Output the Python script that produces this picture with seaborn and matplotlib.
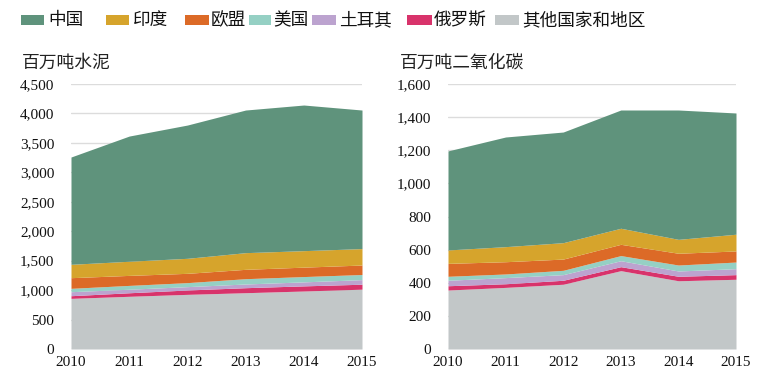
import numpy as np
import matplotlib
matplotlib.use("Agg")
import matplotlib.pyplot as plt
from matplotlib.patches import Rectangle
import seaborn as sns

years = [2010, 2011, 2012, 2013, 2014, 2015]
series_names = ["中国", "印度", "欧盟", "美国", "土耳其", "俄罗斯", "其他国家和地区"]
colors = ["#5f937c", "#d6a42c", "#dc6a27", "#95d0c4", "#bca3cf", "#d8336b", "#c2c7c8"]

# Cement production, million tonnes
cement_china = [1822, 2126, 2263, 2422, 2473, 2353]
cement_india = [227, 240, 255, 283, 280, 279]
cement_eu = [181, 170, 158, 159, 160, 161]
cement_us = [57, 65, 68, 90, 90, 87]
cement_turkey = [68, 60, 57, 63, 68, 78]
cement_russia = [45, 60, 74, 85, 87, 84]
cement_other = [860, 895, 928, 956, 985, 1016]

# CO2 emissions, million tonnes
co2_china = [598, 662, 668, 714, 781, 732]
co2_india = [81, 91, 99, 97, 84, 101]
co2_eu = [78, 74, 68, 68, 71, 67]
co2_us = [24, 22, 26, 31, 36, 40]
co2_turkey = [33, 37, 34, 36, 32, 36]
co2_russia = [26, 22, 24, 24, 27, 28]
co2_other = [356, 372, 391, 473, 412, 421]

left_ticks = [0, 500, 1000, 1500, 2000, 2500, 3000, 3500, 4000, 4500]
right_ticks = [0, 200, 400, 600, 800, 1000, 1200, 1400, 1600]

sns.set_theme(style="white")
plt.rcParams['font.family'] = ['Noto Sans CJK SC', 'DejaVu Sans']

W, H = 764, 387
fig = plt.figure(figsize=(W/100, H/100), dpi=100)
axL = fig.add_axes([71/W, 1-349/H, (362-71)/W, (349-84)/H])
axR = fig.add_axes([448/W, 1-349/H, (736-448)/W, (349-84)/H])

def draw(ax, stacks, ticks, title, title_x):
    order = list(reversed(range(len(stacks))))
    ax.stackplot(years, [stacks[i] for i in order],
                 colors=[colors[i] for i in order], linewidth=0, zorder=2)
    ax.set_xlim(2010, 2015)
    ax.set_ylim(0, ticks[-1])
    ax.set_yticks(ticks)
    ax.set_yticklabels([f"{t:,}" for t in ticks], family="Liberation Serif", fontsize=11, color="#111111")
    ax.set_xticks(years)
    ax.set_xticklabels([str(y) for y in years], family="Liberation Serif", fontsize=11, color="#111111")
    ax.grid(axis="y", color="#dcdcdc", linewidth=1, zorder=0)
    ax.set_axisbelow(True)
    for s in ax.spines.values():
        s.set_visible(False)
    ax.tick_params(axis="both", length=0, pad=5)
    ax.tick_params(axis="y", pad=12)
    fig.text(title_x/W, 1-63/H, title, fontsize=12.8, va="center", ha="left", color="#222222")

draw(axL, [cement_china, cement_india, cement_eu, cement_us, cement_turkey, cement_russia, cement_other],
     left_ticks, "百万吨水泥", 22)
draw(axR, [co2_china, co2_india, co2_eu, co2_us, co2_turkey, co2_russia, co2_other],
     right_ticks, "百万吨二氧化碳", 400)

# legend laid out as in the reference (patch left, patch right, text left in px)
legend_pos = [(21, 44, 48), (106, 129, 133), (185, 209, 211), (249, 271, 273),
              (312, 336, 339), (407, 432, 434), (495, 519, 522)]
for (pl, pr, tl), name, c in zip(legend_pos, series_names, colors):
    fig.add_artist(Rectangle((pl/W, 1-25/H), (pr-pl)/W, 10/H, transform=fig.transFigure,
                             facecolor=c, edgecolor="none"))
    fig.text(tl/W, 1-20/H, name, fontsize=12.7, va="center", ha="left", color="#111111")

fig.savefig("out.png", dpi=100)
